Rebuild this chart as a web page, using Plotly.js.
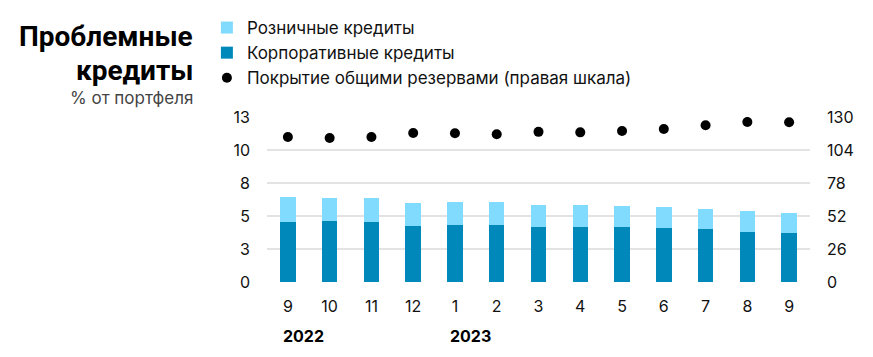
<!DOCTYPE html>
<html><head><meta charset="utf-8">
<script src="https://cdn.plot.ly/plotly-3.0.1.min.js"></script>
<style>html,body{margin:0;padding:0;background:#fff}#chart{width:873px;height:357px}</style>
</head><body><div id="chart"></div>
<script>
var months = ['9','10','11','12','1','2','3','4','5','6','7','8','9'];
var categories = ['2022-09','2022-10','2022-11','2022-12','2023-01','2023-02','2023-03','2023-04','2023-05','2023-06','2023-07','2023-08','2023-09'];
var corporate = [4.75,4.83,4.72,4.43,4.46,4.51,4.35,4.33,4.30,4.25,4.14,3.96,3.85];
var totalNpl = [6.67,6.65,6.60,6.23,6.28,6.28,6.09,6.07,6.02,5.91,5.78,5.59,5.44];
var retail = totalNpl.map(function(t,i){return +(t-corporate[i]).toFixed(2);});
var coverage = [114.2,113.4,114.2,117.4,117.2,116.4,118.3,117.9,119.0,120.6,123.5,126.1,125.9];
var leftTickVals = [0,2.6,5.2,7.8,10.4,13];
var leftTickText = ['0','3','5','8','10','13'];
var rightTickVals = [0,26,52,78,104,130];
var years = [{idx:0,text:'2022'},{idx:4,text:'2023'}];

var FONT = 'Inter, "Noto Sans", sans-serif';
var TFONT = 'Roboto, Inter, sans-serif';
var traces = [
  {type:'bar', x:categories, y:corporate, name:'Корпоративные кредиты', marker:{color:'#0088bb'}, width:0.37, legendrank:2, hoverinfo:'y'},
  {type:'bar', x:categories, y:retail, name:'Розничные кредиты', marker:{color:'#80dbff'}, width:0.37, legendrank:1, hoverinfo:'y'},
  {type:'scatter', mode:'markers', x:categories, y:coverage, yaxis:'y2', name:'Покрытие общими резервами (правая шкала)', marker:{color:'#000', size:10}, legendrank:3}
];
var annotations = [
  {xref:'paper', yref:'paper', x:-0.1326, y:1.49, xanchor:'right', yanchor:'middle', text:'<b>Проблемные</b>', showarrow:false, font:{family:TFONT, size:28, color:'#000'}},
  {xref:'paper', yref:'paper', x:-0.1326, y:1.28, xanchor:'right', yanchor:'middle', text:'<b>кредиты</b>', showarrow:false, font:{family:TFONT, size:28, color:'#000'}},
  {xref:'paper', yref:'paper', x:-0.1326, y:1.115, xanchor:'right', yanchor:'middle', text:'% от портфеля', showarrow:false, font:{family:FONT, size:17, color:'#444'}}
];
years.forEach(function(y){
  annotations.push({xref:'x', yref:'paper', x:categories[y.idx], y:-0.255, xanchor:'left', yanchor:'top', xshift:-7, text:'<b>'+y.text+'</b>', showarrow:false, font:{family:FONT, size:16, color:'#000'}});
});
var layout = {
  width:873, height:357,
  margin:{l:267, r:63, t:117, b:75, autoexpand:false},
  paper_bgcolor:'#fff', plot_bgcolor:'#fff',
  barmode:'stack', bargap:0.63,
  showlegend:true,
  legend:{xref:'container', yref:'container', x:0.237, y:0.972, xanchor:'left', yanchor:'top', traceorder:'normal', font:{family:FONT, size:17, color:'#111'}, itemwidth:30, tracegroupgap:0, bgcolor:'rgba(0,0,0,0)'},
  font:{family:FONT, size:16, color:'#111'},
  xaxis:{type:'category', tickvals:categories, ticktext:months, showgrid:false, zeroline:false, showline:false, ticks:'', ticklabelstandoff:13, tickfont:{family:FONT, size:16, color:'#111'}, range:[-0.5,12.5]},
  yaxis:{range:[0,13], tickvals:leftTickVals, ticktext:leftTickText, showgrid:true, gridcolor:'#e3e3e3', gridwidth:1.5, zeroline:false, showline:false, ticks:'', ticklabelstandoff:16, tickfont:{family:FONT, size:16, color:'#111'}},
  yaxis2:{overlaying:'y', side:'right', range:[0,130], tickvals:rightTickVals, showgrid:false, zeroline:false, showline:false, ticks:'', ticklabelstandoff:16, tickfont:{family:FONT, size:16, color:'#111'}},
  annotations:annotations
};
Plotly.newPlot('chart', traces, layout, {displayModeBar:false, staticPlot:true});
</script></body></html>
